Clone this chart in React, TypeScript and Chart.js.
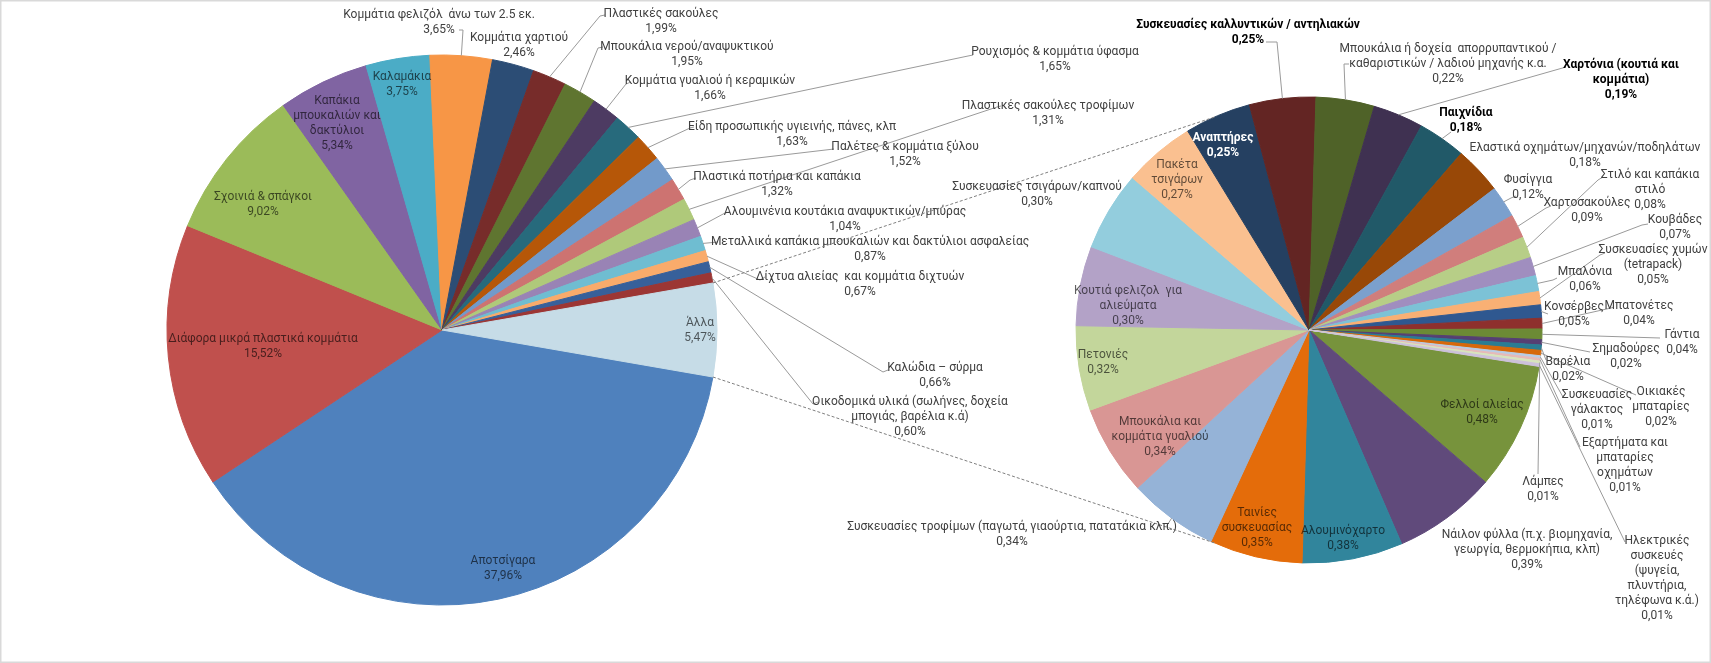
import React, { useEffect, useRef } from 'react';
import { Chart, registerables } from 'chart.js';

Chart.register(...registerables);

const W = 1711;
const H = 663;
const FONT = 'Roboto, "Noto Sans", sans-serif';
const FONT_SIZE = 12;
const LINE_H = 15;

// ---------- primary pie data ----------
const mainCategories = [
  'Αποτσίγαρα',
  'Διάφορα μικρά πλαστικά κομμάτια',
  'Σχοινιά & σπάγκοι',
  'Καπάκια\nμπουκαλιών και\nδακτύλιοι',
  'Καλαμάκια',
  'Κομμάτια φελιζόλ  άνω των 2.5 εκ.',
  'Κομμάτια χαρτιού',
  'Πλαστικές σακούλες',
  'Μπουκάλια νερού/αναψυκτικού',
  'Κομμάτια γυαλιού ή κεραμικών',
  'Ρουχισμός & κομμάτια ύφασμα',
  'Είδη προσωπικής υγιεινής, πάνες, κλπ',
  'Παλέτες & κομμάτια ξύλου',
  'Πλαστικά ποτήρια και καπάκια',
  'Πλαστικές σακούλες τροφίμων',
  'Αλουμινένια κουτάκια αναψυκτικών/μπύρας',
  'Μεταλλικά καπάκια μπουκαλιών και δακτύλιοι ασφαλείας',
  'Δίχτυα αλιείας  και κομμάτια διχτυών',
  'Καλώδια – σύρμα',
  'Οικοδομικά υλικά (σωλήνες, δοχεία\nμπογιάς, βαρέλια κ.ά)',
];
const mainValues = [37.96, 15.52, 9.02, 5.34, 3.75, 3.65, 2.46, 1.99, 1.95, 1.66, 1.65, 1.63, 1.52, 1.32, 1.31, 1.04, 0.87, 0.67, 0.66, 0.6];
const mainColors = [
  '#4F81BD', '#C0504D', '#9BBB59', '#8064A2', '#4BACC6', '#F79646',
  '#2C4D75', '#772C2A', '#5F7530', '#4D3B62', '#276A7C', '#B65708',
  '#729ACA', '#CD7371', '#AFC97A', '#9983B5', '#6FBDD1', '#F9AB6B',
  '#37609A', '#9C3634',
];
const otherCategory = 'Άλλα';
const otherValue = 5.47;
const otherColor = '#C6DCE7';

// ---------- secondary pie data ----------
const subCategories = [
  'Φελλοί αλιείας',
  'Νάιλον φύλλα (π.χ. βιομηχανία,\nγεωργία, θερμοκήπια, κλπ)',
  'Αλουμινόχαρτο',
  'Ταινίες\nσυσκευασίας',
  'Συσκευασίες τροφίμων (παγωτά, γιαούρτια, πατατάκια κλπ.)',
  'Μπουκάλια και\nκομμάτια γυαλιού',
  'Πετονιές',
  'Κουτιά φελιζολ  για\nαλιεύματα',
  'Συσκευασίες τσιγάρων/καπνού',
  'Πακέτα\nτσιγάρων',
  'Αναπτήρες',
  'Συσκευασίες καλλυντικών / αντηλιακών',
  'Μπουκάλια ή δοχεία  απορρυπαντικού /\nκαθαριστικών / λαδιού μηχανής κ.α.',
  'Χαρτόνια (κουτιά και\nκομμάτια)',
  'Παιχνίδια',
  'Ελαστικά οχημάτων/μηχανών/ποδηλάτων',
  'Φυσίγγια',
  'Χαρτοσακούλες',
  'Στιλό και καπάκια\nστιλό',
  'Κουβάδες',
  'Μπαλόνια',
  'Συσκευασίες χυμών\n(tetrapack)',
  'Κονσέρβες',
  'Μπατονέτες',
  'Γάντια',
  'Σημαδούρες',
  'Βαρέλια',
  'Οικιακές\nμπαταρίες',
  'Συσκευασίες\nγάλακτος',
  'Εξαρτήματα και\nμπαταρίες\nοχημάτων',
  'Λάμπες',
  'Ηλεκτρικές\nσυσκευές\n(ψυγεία,\nπλυντήρια,\nτηλέφωνα κ.ά.)',
];
const subValues = [
  0.48, 0.39, 0.38, 0.35, 0.34, 0.34, 0.32, 0.3, 0.3, 0.27, 0.25, 0.25, 0.22, 0.19, 0.18, 0.18,
  0.12, 0.09, 0.08, 0.07, 0.06, 0.05, 0.05, 0.04, 0.04, 0.02, 0.02, 0.02, 0.01, 0.01, 0.01, 0.01,
];
const subColors = [
  '#77933C', '#604A7B', '#31859C', '#E46C0A',
  '#95B3D7', '#D99694', '#C3D69B', '#B3A2C7', '#93CDDD', '#FAC090',
  '#254061', '#632523', '#4F6228', '#3F3151', '#215968', '#984807',
  '#7BA0CD', '#D07E7C', '#B7CE87', '#A08EBF', '#7CC2D6', '#F9B074',
  '#2F5890', '#8E302D', '#6C8A35', '#553F73', '#2A7C93', '#D7680A',
  '#B9CDE5', '#E6B9B8', '#D7E4BD', '#CCC1DA',
];

// ---------- layout (label placement, not data) ----------
type LabelLayout = { x: number; y: number; leader?: number[][]; inside?: boolean; bold?: boolean; color?: string };

const mainLabelLayout: LabelLayout[] = [
  { x: 503, y: 561, inside: true },
  { x: 263, y: 339, inside: true },
  { x: 263, y: 197, inside: true },
  { x: 337, y: 101, inside: true },
  { x: 402, y: 77, inside: true },
  { x: 439, y: 15, leader: [[463, 30], [459, 30]] },
  { x: 519, y: 38 },
  { x: 661, y: 14, leader: [[600, 16], [605, 15]] },
  { x: 687, y: 47, leader: [[598, 48], [603, 47]] },
  { x: 710, y: 81, leader: [[626, 84], [631, 82]] },
  { x: 1055, y: 52, leader: [[968, 56], [973, 55]] },
  { x: 792, y: 127, leader: [[690, 128], [694, 127]] },
  { x: 905, y: 147, leader: [[834, 149]] },
  { x: 777, y: 177, leader: [[690, 180], [696, 178]] },
  { x: 1048, y: 106, leader: [[997, 107], [1001, 106]] },
  { x: 845, y: 212, leader: [[725, 213], [729, 212]] },
  { x: 870, y: 242, leader: [[718, 242]] },
  { x: 860, y: 277, leader: [[760, 280], [765, 277]] },
  { x: 935, y: 368, leader: [[883, 372], [888, 370]] },
  { x: 910, y: 402, leader: [[813, 404], [818, 402]] },
  { x: 700, y: 323, inside: true },
];

const subLabelLayout: LabelLayout[] = [
  { x: 1482, y: 405, inside: true },
  { x: 1527, y: 535 },
  { x: 1343, y: 531, inside: true },
  { x: 1257, y: 513, inside: true },
  { x: 1012, y: 527, leader: [[1166, 527]] },
  { x: 1160, y: 422, inside: true },
  { x: 1103, y: 355, inside: true },
  { x: 1128, y: 291, inside: true },
  { x: 1037, y: 187 },
  { x: 1177, y: 165, inside: true },
  { x: 1223, y: 138, inside: true, bold: true, color: '#FFFFFF' },
  { x: 1248, y: 25, bold: true, color: '#000000', leader: [[1277, 42], [1266, 42]] },
  { x: 1448, y: 49, leader: [[1344, 64], [1349, 64]] },
  { x: 1621, y: 65, bold: true, color: '#000000', leader: [[1566, 67]] },
  { x: 1466, y: 113, bold: true, color: '#000000', leader: [[1451, 132]] },
  { x: 1585, y: 148 },
  { x: 1528, y: 180, leader: [[1511, 198], [1516, 196]] },
  { x: 1587, y: 203, leader: [[1546, 208], [1551, 206]] },
  { x: 1650, y: 175, leader: [[1598, 180], [1603, 177]] },
  { x: 1675, y: 220, leader: [[1642, 225], [1648, 224]] },
  { x: 1585, y: 272, leader: [[1553, 280], [1557, 278]] },
  { x: 1653, y: 250, leader: [[1600, 255], [1605, 253]] },
  { x: 1574, y: 307, leader: [[1548, 314]] },
  { x: 1639, y: 306, leader: [[1611, 308], [1614, 307]] },
  { x: 1682, y: 335, leader: [[1660, 338]] },
  { x: 1626, y: 349, leader: [[1590, 352]] },
  { x: 1568, y: 362, leader: [[1546, 360]] },
  { x: 1661, y: 392, leader: [[1636, 395]] },
  { x: 1597, y: 395, leader: [[1563, 397]] },
  { x: 1625, y: 443, leader: [[1580, 447]] },
  { x: 1543, y: 482, leader: [[1538, 474]] },
  { x: 1657, y: 541, leader: [[1625, 542]] },
];

const LEFT_PIE = { cx: 442, cy: 330, r: 275 };
const RIGHT_PIE = { cx: 1309, cy: 330, r: 233 };
const CONNECTOR_ANGLE = 24; // degrees from vertical where connectors meet secondary pie

const fmtPct = (v: number) => v.toFixed(2).replace('.', ',') + '%';

function drawLabels(chart: any, names: string[], values: number[], layouts: LabelLayout[]) {
  const ctx = chart.ctx as CanvasRenderingContext2D;
  const arcs = chart.getDatasetMeta(0).data;
  ctx.save();
  ctx.strokeStyle = '#9A9A9A';
  ctx.lineWidth = 1;
  layouts.forEach((lay, i) => {
    if (!lay.leader || !arcs[i]) return;
    const p = arcs[i].getProps(['x', 'y', 'startAngle', 'endAngle', 'outerRadius'], true);
    const mid = (p.startAngle + p.endAngle) / 2;
    ctx.beginPath();
    ctx.moveTo(p.x + Math.cos(mid) * p.outerRadius, p.y + Math.sin(mid) * p.outerRadius);
    lay.leader.forEach(([px, py]) => ctx.lineTo(px, py));
    ctx.stroke();
  });
  ctx.textAlign = 'center';
  ctx.textBaseline = 'middle';
  layouts.forEach((lay, i) => {
    const lines = names[i].split('\n').concat([fmtPct(values[i])]);
    ctx.font = `${lay.bold ? 'bold ' : ''}${FONT_SIZE}px ${FONT}`;
    ctx.fillStyle = lay.color || (lay.inside ? 'rgba(0,0,0,0.62)' : '#404040');
    lines.forEach((ln, k) => ctx.fillText(ln, lay.x, lay.y + k * LINE_H));
  });
  ctx.restore();
}

function pieConfig(labels: string[], values: number[], colors: string[], geo: { cx: number; cy: number; r: number }, rotation: number, plugins: any[]) {
  return {
    type: 'pie' as const,
    data: {
      labels,
      datasets: [
        {
          data: values,
          backgroundColor: colors,
          borderColor: colors,
          borderWidth: 1,
          hoverOffset: 0,
          offset: 0,
        },
      ],
    },
    options: {
      responsive: false,
      animation: false as const,
      devicePixelRatio: 1,
      events: [] as any[],
      rotation,
      radius: geo.r,
      layout: {
        padding: {
          left: geo.cx - geo.r,
          right: W - geo.cx - geo.r,
          top: geo.cy - geo.r,
          bottom: H - geo.cy - geo.r,
        },
      },
      plugins: { legend: { display: false }, tooltip: { enabled: false } },
    },
    plugins,
  };
}

export default function App() {
  const leftRef = useRef<HTMLCanvasElement>(null);
  const rightRef = useRef<HTMLCanvasElement>(null);

  useEffect(() => {
    const leftValues = [...mainValues, otherValue];
    const leftNames = [...mainCategories, otherCategory];
    const leftColors = [...mainColors, otherColor];
    const leftTotal = leftValues.reduce((a, b) => a + b, 0);
    const leftRotation = 90 + (otherValue / leftTotal) * 180;

    const bgPlugin = {
      id: 'bgBorder',
      beforeDraw(chart: any) {
        const ctx = chart.ctx as CanvasRenderingContext2D;
        ctx.save();
        ctx.fillStyle = '#FFFFFF';
        ctx.fillRect(0, 0, W, H);
        ctx.strokeStyle = '#D9D9D9';
        ctx.lineWidth = 1.5;
        ctx.strokeRect(0.75, 0.75, W - 1.5, H - 1.5);
        ctx.restore();
      },
    };
    const leftLabelPlugin = {
      id: 'leftLabels',
      afterDraw(chart: any) {
        drawLabels(chart, leftNames, leftValues, mainLabelLayout);
      },
    };

    const left = new Chart(
      leftRef.current as HTMLCanvasElement,
      pieConfig(leftNames, leftValues, leftColors, LEFT_PIE, leftRotation, [bgPlugin, leftLabelPlugin]) as any
    );

    const connectorPlugin = {
      id: 'connectors',
      afterDraw(chart: any) {
        const ctx = chart.ctx as CanvasRenderingContext2D;
        const lArcs = left.getDatasetMeta(0).data as any[];
        const other = lArcs[lArcs.length - 1].getProps(['x', 'y', 'startAngle', 'endAngle', 'outerRadius'], true);
        const rArc = (chart.getDatasetMeta(0).data as any[])[0].getProps(['x', 'y', 'outerRadius'], true);
        const a = (CONNECTOR_ANGLE * Math.PI) / 180;
        const top = [rArc.x - Math.sin(a) * rArc.outerRadius, rArc.y - Math.cos(a) * rArc.outerRadius];
        const bot = [rArc.x - Math.sin(a) * rArc.outerRadius, rArc.y + Math.cos(a) * rArc.outerRadius];
        const p1 = [other.x + Math.cos(other.startAngle) * other.outerRadius, other.y + Math.sin(other.startAngle) * other.outerRadius];
        const p2 = [other.x + Math.cos(other.endAngle) * other.outerRadius, other.y + Math.sin(other.endAngle) * other.outerRadius];
        ctx.save();
        ctx.strokeStyle = '#7F7F7F';
        ctx.lineWidth = 1;
        ctx.setLineDash([3, 2]);
        ctx.beginPath();
        ctx.moveTo(p1[0], p1[1]);
        ctx.lineTo(top[0], top[1]);
        ctx.moveTo(p2[0], p2[1]);
        ctx.lineTo(bot[0], bot[1]);
        ctx.stroke();
        ctx.restore();
        drawLabels(chart, subCategories, subValues, subLabelLayout);
      },
    };

    const right = new Chart(
      rightRef.current as HTMLCanvasElement,
      pieConfig(subCategories, subValues, subColors, RIGHT_PIE, 99, [connectorPlugin]) as any
    );

    return () => {
      right.destroy();
      left.destroy();
    };
  }, []);

  const cStyle: React.CSSProperties = { position: 'absolute', left: 0, top: 0, width: W, height: H };
  return (
    <div style={{ position: 'absolute', left: 0, top: 0, width: W, height: H, background: '#FFFFFF' }}>
      <canvas ref={leftRef} width={W} height={H} style={cStyle} />
      <canvas ref={rightRef} width={W} height={H} style={cStyle} />
    </div>
  );
}
